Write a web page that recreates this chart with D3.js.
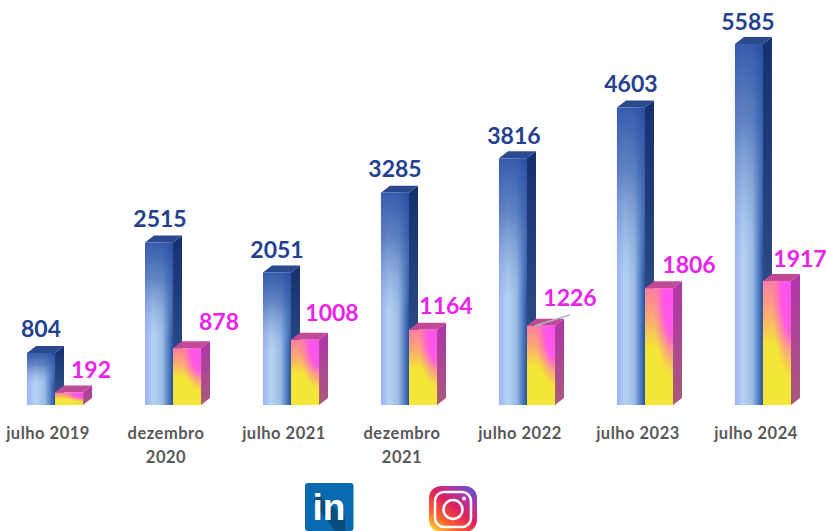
<!DOCTYPE html>
<html>
<head>
<meta charset="utf-8">
<script src="https://cdn.jsdelivr.net/npm/d3@7"></script>
<style>
  html, body { margin: 0; background: #fff; }
  text { font-family: Lato, "Open Sans", sans-serif; font-weight: 700; }
</style>
</head>
<body>
<script>
var categories = ['julho 2019', 'dezembro 2020', 'julho 2021', 'dezembro 2021', 'julho 2022', 'julho 2023', 'julho 2024'];
var linkedin = [804, 2515, 2051, 3285, 3816, 4603, 5585];
var instagram = [192, 878, 1008, 1164, 1226, 1806, 1917];

// hand placed label nudges, the labels in the picture are not aligned to the bars
var blueNudge = [[0, -16], [1, -15], [0, -14], [0, -16], [1, -14], [0, -15], [-1, -14]];
var pinkNudge = [[22, -15], [32, -18], [27, -19], [23, -16], [29, -20], [30, -15], [23, -14]];

var width = 826, height = 531;
var depthX = 9, depthY = 7;

var svg = d3.select('body').append('svg').attr('width', width).attr('height', height).style('display', 'block');
var defs = svg.append('defs');

function gradient(id, tag, attrs, stops) {
  var g = defs.append(tag).attr('id', id);
  Object.keys(attrs).forEach(function (k) { g.attr(k, attrs[k]); });
  stops.forEach(function (s) {
    g.append('stop').attr('offset', s[0]).attr('stop-color', s[1]).attr('stop-opacity', s[2] === undefined ? 1 : s[2]);
  });
}

gradient('blueFront', 'linearGradient', {x1: 0, y1: 0, x2: 1, y2: 0},
  [[0, '#9fb2f5'], [0.3, '#b4d3f1'], [0.62, '#9dbce6'], [0.85, '#4f7cc2'], [1, '#2a5098']]);
gradient('blueShade', 'linearGradient', {x1: 0, y1: 0, x2: 0, y2: 1},
  [[0, '#2a4fa4', 0.9], [0.22, '#3f66b0', 0.7], [0.58, '#7fa3d8', 0]]);
gradient('blueSide', 'linearGradient', {x1: 0, y1: 0, x2: 0, y2: 1},
  [[0, '#15306e'], [1, '#35578f']]);
gradient('pinkFront', 'linearGradient', {x1: 0, y1: 1, x2: 0, y2: 0},
  [[0, '#f3e636'], [0.48, '#f3e636'], [0.76, '#fca678'], [1, '#ff7fa0']]);
gradient('pinkGlow', 'radialGradient', {cx: 1, cy: 0.05, r: 0.72, fx: 1, fy: 0.05},
  [[0, '#ff50f0', 1], [0.5, '#ff55ea', 0.95], [1, '#ff7fa0', 0]]);
gradient('pinkSide', 'linearGradient', {x1: 0, y1: 0, x2: 0, y2: 1},
  [[0, '#b034aa'], [1, '#a85a7c']]);
gradient('igFrame', 'linearGradient', {x1: 0.1, y1: 1, x2: 0.9, y2: 0},
  [[0, '#fdd835'], [0.25, '#f9622e'], [0.55, '#dc1f5f'], [0.8, '#a838b0'], [1, '#5a52c8']]);

var x = d3.scaleBand().domain(categories).range([27, 791]).paddingInner(0.525).paddingOuter(0);
var series = d3.scaleBand().domain(['linkedin', 'instagram']).range([0, x.bandwidth()]);
var y = d3.scaleLinear().domain([0, 5585]).range([405, 44]);

// front + side + top of one 3d bar
function drawBars(name, values, frontFill, sideFill, topFill) {
  var g = svg.append('g').selectAll('g').data(values).enter().append('g')
    .attr('transform', function (d, i) { return 'translate(' + (x(categories[i]) + series(name)) + ',0)'; });
  var w = series.bandwidth();

  g.append('path').attr('fill', sideFill).attr('d', function (d) {
    return 'M' + w + ',' + y(d) + 'l' + depthX + ',' + (-depthY) + 'V' + (y(0) - depthY) + 'l' + (-depthX) + ',' + depthY + 'Z';
  });
  g.append('path').attr('fill', topFill).attr('d', function (d) {
    return 'M0,' + y(d) + 'l' + depthX + ',' + (-depthY) + 'h' + w + 'l' + (-depthX) + ',' + depthY + 'Z';
  });
  frontFill.forEach(function (f) {
    g.append('rect').attr('width', w).attr('y', function (d) { return y(d); })
      .attr('height', function (d) { return y(0) - y(d); }).attr('fill', f);
  });
}

drawBars('linkedin', linkedin, ['url(#blueFront)', 'url(#blueShade)'], 'url(#blueSide)', '#2b4a8e');
drawBars('instagram', instagram, ['url(#pinkFront)', 'url(#pinkGlow)'], 'url(#pinkSide)', '#c04a96');

// leader line at 1226
var lead = x(categories[4]) + series('instagram');
svg.append('line').attr('x1', lead + 8).attr('y1', y(instagram[4])).attr('x2', lead + 43).attr('y2', y(instagram[4]) - 11)
  .attr('stroke', '#a9bcc4').attr('stroke-width', 1.5);

function drawLabels(name, values, nudge, colour) {
  svg.append('g').selectAll('text').data(values).enter().append('text')
    .attr('x', function (d, i) { return x(categories[i]) + series(name) + series.bandwidth() / 2 + nudge[i][0]; })
    .attr('y', function (d, i) { return y(d) + nudge[i][1]; })
    .attr('text-anchor', 'middle').attr('font-size', 23).attr('fill', colour)
    .text(function (d) { return d; });
}
drawLabels('linkedin', linkedin, blueNudge, '#23418f');
drawLabels('instagram', instagram, pinkNudge, '#ea22ea');

// category axis, no line and no tick marks
var axis = svg.append('g').attr('transform', 'translate(-7,' + y(0) + ')')
  .call(d3.axisBottom(x).tickSize(0).tickPadding(0));
axis.select('.domain').remove();
axis.selectAll('text').each(function (d) {
  var t = d3.select(this).text('').attr('y', 34).attr('dy', null)
    .attr('font-size', 16.5).attr('fill', '#595959').attr('letter-spacing', 0.5)
    .style('font-family', 'Lato, "Open Sans", sans-serif').style('font-weight', 700);
  var parts = d.indexOf('dezembro') === 0 ? d.split(' ') : [d];
  parts.forEach(function (p, i) {
    t.append('tspan').attr('x', 0).attr('dy', i ? 24 : 0).text(p);
  });
});

// logos
var li = svg.append('g').attr('transform', 'translate(305,483)');
li.append('rect').attr('width', 48.5).attr('height', 48).attr('rx', 3).attr('fill', '#0a6ab0');
li.append('path').attr('d', 'M8,18L14,12L40,34V48H30Z').attr('fill', '#07456f').attr('opacity', 0.75);
li.append('text').attr('x', 24).attr('y', 37).attr('text-anchor', 'middle')
  .attr('font-size', 37).attr('fill', '#fff').style('font-family', 'Liberation Sans, sans-serif').text('in');

var ig = svg.append('g').attr('transform', 'translate(429,486)');
ig.append('rect').attr('width', 48).attr('height', 46).attr('rx', 12).attr('fill', 'url(#igFrame)');
ig.append('rect').attr('x', 6).attr('y', 6).attr('width', 36).attr('height', 35).attr('rx', 9)
  .attr('fill', 'none').attr('stroke', '#fff').attr('stroke-width', 2.5);
ig.append('circle').attr('cx', 24).attr('cy', 23.5).attr('r', 9.5)
  .attr('fill', 'none').attr('stroke', '#fff').attr('stroke-width', 2.5);
ig.append('circle').attr('cx', 35).attr('cy', 12.5).attr('r', 2).attr('fill', '#fff');
</script>
</body>
</html>
